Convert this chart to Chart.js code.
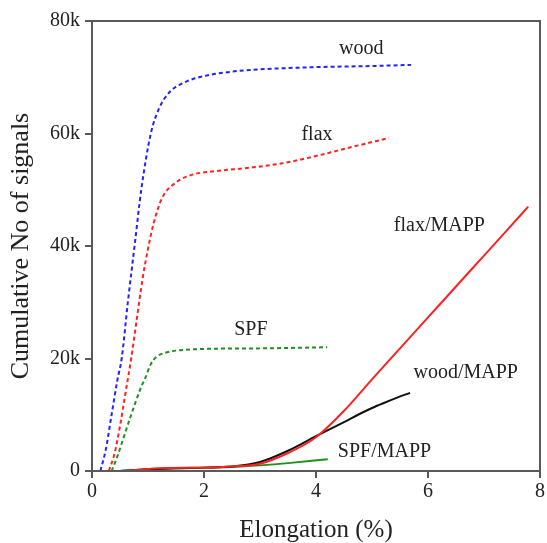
<!DOCTYPE html>
<html>
<head>
<meta charset="utf-8">
<script src="https://cdn.jsdelivr.net/npm/chart.js@4"></script>
<style>
  html, body { margin: 0; padding: 0; background: #fff; }
  #wrap { width: 547px; height: 543px; }
</style>
</head>
<body>
<div id="wrap"><canvas id="chart"></canvas></div>
<script>
// values: elongation (%) and cumulative signal count
const woodX = [0.15, 0.25, 0.35, 0.45, 0.53, 0.64, 0.76, 0.88, 1.05, 1.2, 1.4, 1.7, 2.0, 2.5, 3.0, 4.0, 5.0, 5.7];
const woodY = [0, 4000, 10000, 16000, 20000, 30000, 40000, 50000, 60000, 64500, 67500, 69300, 70200, 71000, 71400, 71800, 72000, 72200];

const flaxX = [0.3, 0.4, 0.5, 0.6, 0.7, 0.8, 0.9, 1.0, 1.1, 1.25, 1.5, 1.8, 2.2, 2.8, 3.4, 4.0, 4.6, 5.3];
const flaxY = [0, 3000, 8000, 14000, 20000, 27000, 34000, 39500, 44000, 48500, 51300, 52700, 53300, 53900, 54700, 56000, 57500, 59200];

const spfX = [0.35, 0.45, 0.55, 0.7, 0.88, 0.95, 1.05, 1.15, 1.3, 1.5, 2.0, 3.0, 4.2];
const spfY = [0, 2500, 5500, 10000, 15000, 16500, 19000, 20300, 21000, 21400, 21700, 21800, 22000];

const flaxMappX = [0.5, 0.8, 1.2, 2.0, 2.5, 3.0, 3.5, 4.0, 4.5, 5.0, 5.5, 6.0, 6.5, 7.0, 7.4, 7.79];
const flaxMappY = [0, 200, 500, 600, 800, 1300, 3200, 6000, 10700, 16300, 21800, 27300, 32800, 38300, 42700, 47000];

const woodMappX = [0.5, 1.0, 1.5, 2.0, 2.5, 3.0, 3.5, 4.0, 4.5, 4.75, 5.0, 5.2, 5.45, 5.68];
const woodMappY = [0, 300, 500, 600, 800, 1600, 3600, 6200, 8700, 10000, 11200, 12050, 13050, 13900];

const spfMappX = [0.5, 1.0, 1.5, 2.0, 2.5, 3.0, 3.5, 4.21];
const spfMappY = [0, 300, 500, 600, 700, 1000, 1400, 2100];

// curve labels, placed in data units
const labelText = ["wood", "flax", "flax/MAPP", "SPF", "wood/MAPP", "SPF/MAPP"];
const labelX = [4.41, 3.74, 5.39, 2.54, 5.74, 4.39];
const labelY = [75000, 59700, 43600, 25200, 17400, 3400];

const xTicks = [0, 2, 4, 6, 8];
const yTicks = [0, 20000, 40000, 60000, 80000];

function pts(xs, ys) {
    return xs.map((x, i) => ({ x: x, y: ys[i] }));
}

function series(label, xs, ys, color, dashed) {
    return {
        label: label,
        data: pts(xs, ys),
        borderColor: color,
        backgroundColor: color,
        borderWidth: 2,
        borderDash: dashed ? [4, 3] : [],
        pointRadius: 0,
        showLine: true,
        cubicInterpolationMode: "monotone",
        fill: false,
    };
}

const frameAndLabels = {
    id: "frameAndLabels",
    afterDatasetsDraw(chart) {
        const ctx = chart.ctx;
        const a = chart.chartArea;
        ctx.save();
        ctx.strokeStyle = "#5a5a5a";
        ctx.lineWidth = 2;
        ctx.strokeRect(a.left, a.top, a.right - a.left, a.bottom - a.top);

        ctx.fillStyle = "#222";
        ctx.font = "20px 'Liberation Serif'";
        ctx.textAlign = "left";
        ctx.textBaseline = "middle";
        const xs = chart.scales.x, ys = chart.scales.y;
        labelText.forEach((t, i) => {
            ctx.fillText(t, xs.getPixelForValue(labelX[i]), ys.getPixelForValue(labelY[i]));
        });
        ctx.restore();
    },
};

Chart.defaults.font.family = "'Liberation Serif'";
Chart.defaults.color = "#222";

new Chart(document.getElementById("chart"), {
    type: "scatter",
    data: {
        datasets: [
            series("wood", woodX, woodY, "#2222ff", true),
            series("flax", flaxX, flaxY, "#ff2222", true),
            series("SPF", spfX, spfY, "#1f8f1f", true),
            series("flax/MAPP", flaxMappX, flaxMappY, "#ff2020", false),
            series("wood/MAPP", woodMappX, woodMappY, "#111111", false),
            series("SPF/MAPP", spfMappX, spfMappY, "#1f8f1f", false),
        ],
    },
    options: {
        responsive: true,
        maintainAspectRatio: false,
        animation: false,
        layout: { padding: { top: 21, right: 6, left: 0, bottom: 0 } },
        plugins: {
            legend: { display: false },
            tooltip: { enabled: false },
        },
        scales: {
            x: {
                type: "linear",
                min: 0,
                max: 8,
                afterBuildTicks(s) { s.ticks = xTicks.map(v => ({ value: v })); },
                afterFit(s) { s.height = 72; },
                ticks: { font: { size: 20 }, padding: 2, color: "#222" },
                grid: { drawOnChartArea: false, tickLength: 7, color: "#5a5a5a", lineWidth: 2 },
                border: { display: true, color: "#5a5a5a", width: 2 },
                title: { display: true, text: "Elongation (%)", font: { size: 25, lineHeight: 1.0 }, color: "#222", padding: { top: 0, bottom: 0 } },
            },
            y: {
                type: "linear",
                min: 0,
                max: 80000,
                afterBuildTicks(s) { s.ticks = yTicks.map(v => ({ value: v })); },
                afterFit(s) { s.width = 92; },
                ticks: {
                    font: { size: 20 },
                    padding: 5,
                    color: "#222",
                    callback: v => (v === 0 ? "0" : v / 1000 + "k"),
                },
                grid: { drawOnChartArea: false, tickLength: 7, color: "#5a5a5a", lineWidth: 2 },
                border: { display: true, color: "#5a5a5a", width: 2 },
                title: { display: true, text: "Cumulative No of signals", font: { size: 26 }, color: "#222", padding: { top: 6, bottom: 0 } },
            },
        },
    },
    plugins: [frameAndLabels],
});
</script>
</body>
</html>
